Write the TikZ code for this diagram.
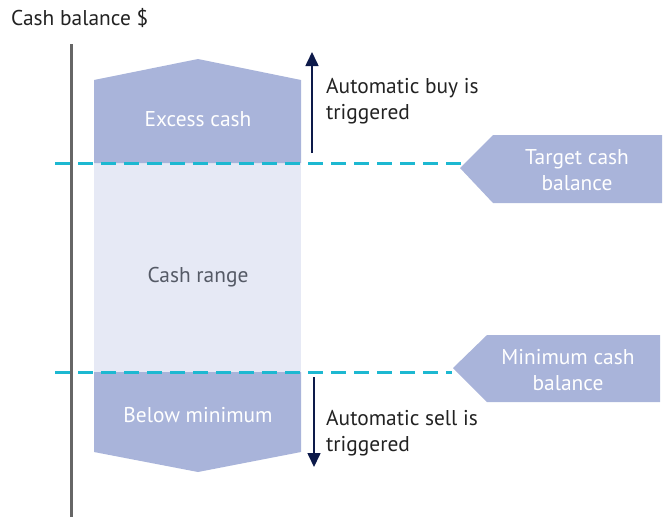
\documentclass[tikz,border=0pt]{standalone}
\usepackage{fontspec}
\setmainfont{PT Sans}
\usetikzlibrary{arrows.meta}
\definecolor{boxfill}{HTML}{A9B4DA}
\definecolor{rangefill}{HTML}{E6E9F5}
\definecolor{cyanline}{HTML}{1DB8D1}
\definecolor{navy}{HTML}{0D1A4A}
\definecolor{axisgray}{HTML}{666666}
\definecolor{txtdark}{HTML}{222222}
\definecolor{txtgray}{HTML}{555A66}
\begin{document}
\begin{tikzpicture}[x=1pt,y=-1pt,
  lbl/.style={font=\fontsize{21.4}{26}\selectfont, inner sep=0pt},
  whitetxt/.style={lbl, text=white, align=center},
  darktxt/.style={lbl, text=txtdark, align=left, anchor=west},
  shapefill/.style={fill=boxfill, draw=none},
  levelline/.style={cyanline, line width=3pt, dash pattern=on 15pt off 8pt},
  trigger/.style={navy, line width=1.6pt, -{Triangle[length=14pt,width=13pt]}}]
\useasboundingbox (0,0) rectangle (668,517);
% axis
\coordinate (axtop) at (71,44);
\coordinate (axbot) at (71,517);
\draw[axisgray, line width=3pt] (axtop) -- (axbot);
\node[lbl, anchor=west, text=txtdark] (title) at (11,18) {Cash balance \$};
% cash range
\fill[rangefill] (94,163) rectangle (301,372);
% excess cash
\fill[shapefill] (94,163) -- (94,80) -- (198,59) -- (301,80) -- (301,163) -- cycle;
% below minimum
\fill[shapefill] (94,372) -- (94,452) -- (198,472) -- (301,452) -- (301,372) -- cycle;
% right labels
\fill[shapefill] (460,168) -- (493,135) -- (662,135) -- (662,203) -- (493,203) -- cycle;
\fill[shapefill] (453,368) -- (487,335) -- (660,335) -- (660,402) -- (487,402) -- cycle;
\coordinate (tgttip) at (461,163);
\coordinate (mintip) at (452,372);
\coordinate (tgtstart) at (55,163);
\coordinate (minstart) at (55,372);
\draw[levelline] (tgtstart) -- (tgttip);
\draw[levelline] (minstart) -- (mintip);
% texts
\node[whitetxt] (excess) at (198,119) {Excess cash};
\node[lbl, text=txtgray] (range) at (198,277) {Cash range};
\node[whitetxt] (below) at (198,415) {Below minimum};
\node[whitetxt] (target) at (577,170) {Target cash\\balance};
\node[whitetxt] (minimum) at (568,370) {Minimum cash\\balance};
\node[darktxt] (buy) at (326,101) {Automatic buy is\\triggered};
\node[darktxt] (sell) at (326,433) {Automatic sell is\\triggered};
% arrows
\coordinate (buyfrom) at (312,153);
\coordinate (buyto) at (312,52);
\coordinate (sellfrom) at (314,377);
\coordinate (sellto) at (314,467);
\draw[trigger] (buyfrom) -- (buyto);
\draw[trigger] (sellfrom) -- (sellto);
\end{tikzpicture}
\end{document}
